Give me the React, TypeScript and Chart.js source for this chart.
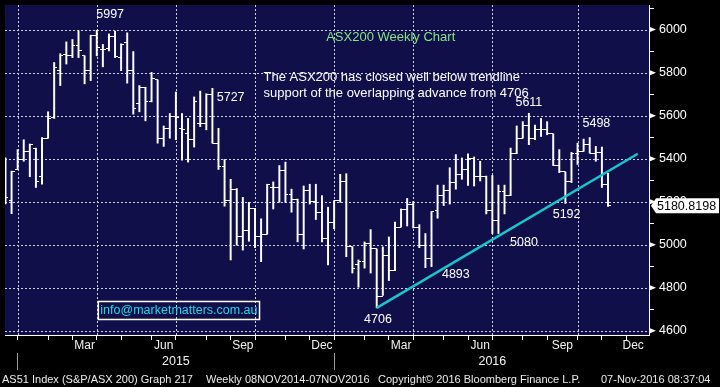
import React, { useEffect, useRef } from 'react';
import { Chart, registerables } from 'chart.js';

Chart.register(...registerables);

// ---------------- data ----------------
// week-ending date (Friday) of the first visible weekly bar; one bar per week after it
const firstWeek = '2014-12-19';

const opens = [
  5310, 5205, 5350, 5396, 5434, 5449, 5319, 5495, 5590, 5809,
  5885, 5878, 5927, 5878, 5809, 5974, 5908, 5913, 5970, 5870,
  5939, 5809, 5656, 5732, 5664, 5766, 5495, 5541, 5595, 5541,
  5515, 5488, 5564, 5564, 5699, 5472, 5362, 5205, 5258, 5039,
  5067, 5169, 5039, 5049, 5266, 5266, 5347, 5235, 5212, 5049,
  5254, 5200, 5148, 5029, 5105, 5205, 5292, 4990, 4906, 4924,
  5006, 4980, 4761, 4952, 4879, 5082, 5163, 5189, 5078, 4998,
  4937, 5159, 5231, 5250, 5289, 5327, 5350, 5403, 5316, 5316,
  5159, 5113, 5246, 5228, 5423, 5495, 5556, 5495, 5534, 5534,
  5515, 5368, 5338, 5292, 5426, 5434, 5465, 5426, 5429, 5281,
];
const highs = [
  5404, 5342, 5442, 5488, 5468, 5449, 5498, 5618, 5847, 5888,
  5943, 5954, 5995, 5878, 5974, 5997, 5931, 5980, 5993, 5934,
  5985, 5898, 5740, 5732, 5801, 5766, 5552, 5610, 5710, 5610,
  5587, 5687, 5714, 5702, 5727, 5541, 5396, 5304, 5261, 5220,
  5197, 5169, 5120, 5281, 5292, 5368, 5384, 5258, 5212, 5273,
  5281, 5281, 5228, 5174, 5205, 5327, 5330, 4990, 4929, 5013,
  5070, 4980, 4990, 5036, 5105, 5166, 5215, 5200, 5093, 5052,
  5154, 5277, 5277, 5358, 5419, 5403, 5423, 5408, 5388, 5319,
  5322, 5277, 5277, 5449, 5552, 5572, 5611, 5556, 5587, 5572,
  5515, 5442, 5338, 5429, 5472, 5491, 5498, 5457, 5454, 5332,
];
const lows = [
  5189, 5144, 5350, 5388, 5316, 5266, 5281, 5495, 5587, 5740,
  5840, 5870, 5870, 5748, 5763, 5878, 5827, 5901, 5870, 5809,
  5751, 5607, 5618, 5576, 5664, 5472, 5457, 5495, 5488, 5393,
  5384, 5454, 5549, 5534, 5472, 5350, 5179, 4929, 4998, 4975,
  5016, 4986, 4921, 5049, 5166, 5197, 5197, 5151, 5013, 4980,
  5189, 5117, 5013, 4906, 5074, 5197, 4944, 4868, 4802, 4891,
  4868, 4706, 4764, 4833, 4879, 5082, 5087, 5078, 4986, 4893,
  4898, 5123, 5182, 5189, 5258, 5304, 5276, 5273, 5296, 5143,
  5052, 5052, 5143, 5228, 5423, 5495, 5465, 5488, 5503, 5511,
  5368, 5335, 5192, 5289, 5373, 5434, 5426, 5388, 5266, 5178,
];
const closes = [
  5220, 5342, 5396, 5434, 5465, 5293, 5495, 5587, 5824, 5878,
  5878, 5927, 5901, 5809, 5974, 5916, 5908, 5967, 5875, 5931,
  5809, 5633, 5732, 5664, 5775, 5495, 5541, 5595, 5590, 5534,
  5491, 5668, 5564, 5699, 5472, 5362, 5205, 5258, 5039, 5067,
  5169, 5039, 5049, 5281, 5266, 5347, 5235, 5212, 5049, 5254,
  5200, 5148, 5029, 5105, 5205, 5292, 4990, 4891, 4924, 5006,
  4980, 4761, 4952, 4879, 5082, 5163, 5189, 5078, 4998, 4937,
  5154, 5231, 5250, 5289, 5327, 5350, 5403, 5316, 5316, 5159,
  5113, 5246, 5228, 5423, 5495, 5556, 5495, 5534, 5534, 5515,
  5368, 5338, 5292, 5426, 5434, 5465, 5426, 5429, 5281, 5180.8198,
];
const lastPriceLabel = '5180.8198';

// trendline (x in weekly-bar units from the first bar)
const trendWeeks = [61, 103.9];
const trendValues = [4706, 5423];

const yMajorTicks = [4600, 4800, 5000, 5200, 5400, 5600, 5800, 6000];
const yMinorTicks = [4700, 4900, 5100, 5300, 5500, 5700, 5900, 6100];
const monthNames = ['Jan', 'Feb', 'Mar', 'Apr', 'May', 'Jun', 'Jul', 'Aug', 'Sep', 'Oct', 'Nov', 'Dec'];
const labelledMonths = [2, 5, 8, 11];
const gridMonths = [0, 3, 6, 9];

const chartTitle = 'ASX200 Weekly Chart';
const commentLines = [
  'The ASX200 has closed well below trendline',
  'support of the overlapping advance from 4706',
];
const levelLabels = ['5997', '5727', '5611', '5498', '5192', '5080', '4893', '4706'];
const emailText = 'info@marketmatters.com.au';
const footerTexts = [
  'AS51 Index (S&P/ASX 200) Graph 217',
  'Weekly 08NOV2014-07NOV2016',
  'Copyright\u00A9 2016 Bloomberg Finance L.P.',
  '07-Nov-2016 08:37:04',
];

// ---------------- layout / style ----------------
const FONT = "'Liberation Sans', Arial, sans-serif";
const NAVY = '#100f4a';
const GRID_DOT = '#d0d0dc';
const WHITE = '#ffffff';
const X_MIN = -0.08;
const X_MAX = 105.74;
const Y_MIN = 4580;
const Y_MAX = 6114.5;

// positions of the text notes, in data units (week index, index value)
const levelLabelPos = [
  [17.2, 6072], [37.0, 5685], [86.0, 5662], [97.1, 5565],
  [92.2, 5141], [85.2, 5012], [74.0, 4859], [61.2, 4650],
];
const titlePos = [63.3, 5962];
const commentPos = [42.4, 5778];
const emailPos = [28.5, 4694];
const footerX = [2, 206, 378, 601];

// ---------------- derived axis helpers ----------------
const DAY = 86400000;
const t0 = Date.parse(firstWeek + 'T00:00:00Z');
const weekDate = (i: number) => new Date(t0 + i * 7 * DAY);

const monthTicks: { idx: number; month: number; year: number }[] = [];
for (let i = 1; i <= 110; i++) {
  const d = weekDate(i);
  const p = weekDate(i - 1);
  if (d.getUTCMonth() !== p.getUTCMonth()) {
    monthTicks.push({ idx: i, month: d.getUTCMonth(), year: d.getUTCFullYear() });
  }
}
const visibleMonthTicks = monthTicks.filter((m) => m.idx >= X_MIN && m.idx <= X_MAX);
const monthLabelTicks: { value: number; label: string }[] = [];
monthTicks.forEach((m, k) => {
  const next = monthTicks[k + 1];
  if (!next || !labelledMonths.includes(m.month) || m.idx > X_MAX) return;
  const mid = Math.min((m.idx + next.idx) / 2, X_MAX - 2.6);
  monthLabelTicks.push({ value: mid, label: monthNames[m.month] });
});
const yearLabelTicks = visibleMonthTicks
  .filter((m) => m.month === 6)
  .map((m) => ({ value: m.idx, label: String(m.year) }));
const yearSepTicks = visibleMonthTicks.filter((m) => m.month === 0).map((m) => ({ value: m.idx }));
const quarterTicks = visibleMonthTicks.filter((m) => gridMonths.includes(m.month)).map((m) => ({ value: m.idx }));

function makeTickImage(side: 'left' | 'right') {
  const c = document.createElement('canvas');
  c.width = 6;
  c.height = 1;
  const g = c.getContext('2d')!;
  g.fillStyle = WHITE;
  g.fillRect(side === 'left' ? 0 : 3, 0, 3, 1);
  return c;
}

const decorPlugin = {
  id: 'decor',
  beforeDraw(chart: any) {
    const { ctx, chartArea: a, width, height } = chart;
    ctx.save();
    ctx.fillStyle = '#000';
    ctx.fillRect(0, 0, width, height);
    ctx.fillStyle = NAVY;
    ctx.fillRect(a.left, a.top, a.right - a.left, a.bottom - a.top);
    ctx.restore();
  },
  // dotted grid (2px on / 2px off) at the ticks of the data axes
  beforeDatasetsDraw(chart: any) {
    const { ctx, chartArea: a } = chart;
    const xs = chart.scales.x;
    const ys = chart.scales.y;
    ctx.save();
    ctx.fillStyle = GRID_DOT;
    xs.ticks.forEach((t: any) => {
      const px = Math.round(xs.getPixelForValue(t.value));
      for (let y = Math.ceil(a.top); y < a.bottom - 1; y += 4) ctx.fillRect(px, y, 1, 2);
    });
    ys.ticks.forEach((t: any) => {
      const py = Math.round(ys.getPixelForValue(t.value));
      for (let x = Math.ceil(a.left); x < a.right - 1; x += 4) ctx.fillRect(x, py, 2, 1);
    });
    ctx.restore();
  },
  afterDatasetsDraw(chart: any) {
    const { ctx } = chart;
    const xs = chart.scales.x;
    const ys = chart.scales.y;
    ctx.save();
    ctx.textBaseline = 'middle';
    ctx.font = `12.5px ${FONT}`;
    ctx.fillStyle = WHITE;
    ctx.textAlign = 'center';
    levelLabels.forEach((t, k) => {
      const [x, y] = levelLabelPos[k];
      ctx.fillText(t, xs.getPixelForValue(x), ys.getPixelForValue(y));
    });
    ctx.font = `13px ${FONT}`;
    ctx.fillStyle = '#86e486';
    ctx.fillText(chartTitle, xs.getPixelForValue(titlePos[0]), ys.getPixelForValue(titlePos[1]));
    ctx.fillStyle = WHITE;
    ctx.textAlign = 'left';
    commentLines.forEach((t, k) => {
      ctx.fillText(t, xs.getPixelForValue(commentPos[0]), ys.getPixelForValue(commentPos[1]) + k * 16);
    });
    ctx.font = `12.5px ${FONT}`;
    const w = ctx.measureText(emailText).width;
    const cx = xs.getPixelForValue(emailPos[0]);
    const cy = ys.getPixelForValue(emailPos[1]);
    ctx.strokeStyle = WHITE;
    ctx.lineWidth = 1.5;
    ctx.strokeRect(cx - w / 2 - 2, cy - 9, w + 4, 18);
    ctx.fillStyle = '#22d8ea';
    ctx.textAlign = 'center';
    ctx.fillText(emailText, cx, cy + 0.5);
    ctx.restore();
  },
  afterDraw(chart: any) {
    const { ctx } = chart;
    const ys = chart.scales.y;
    ctx.save();
    ctx.fillStyle = WHITE;
    yMajorTicks.forEach((v) => {
      const y = ys.getPixelForValue(v);
      ctx.beginPath();
      ctx.moveTo(ys.left + 1, y - 2.5);
      ctx.lineTo(ys.left + 7, y);
      ctx.lineTo(ys.left + 1, y + 2.5);
      ctx.closePath();
      ctx.fill();
    });
    const py = ys.getPixelForValue(closes[closes.length - 1]);
    const l = ys.left + 2;
    ctx.beginPath();
    ctx.moveTo(l, py);
    ctx.lineTo(l + 5, py - 7.5);
    ctx.lineTo(chart.width - 1, py - 7.5);
    ctx.lineTo(chart.width - 1, py + 7.5);
    ctx.lineTo(l + 5, py + 7.5);
    ctx.closePath();
    ctx.fillStyle = WHITE;
    ctx.fill();
    ctx.fillStyle = '#000';
    ctx.font = `12.5px ${FONT}`;
    ctx.textAlign = 'left';
    ctx.textBaseline = 'middle';
    ctx.fillText(lastPriceLabel, l + 6, py + 0.5);
    ctx.font = `11px ${FONT}`;
    ctx.fillStyle = '#ececec';
    footerTexts.forEach((t, k) => ctx.fillText(t, footerX[k], chart.height - 7.5));
    ctx.restore();
  },
};

export default function App() {
  const ref = useRef<HTMLCanvasElement>(null);
  useEffect(() => {
    const canvas = ref.current;
    if (!canvas) return;
    const openImg = makeTickImage('left');
    const closeImg = makeTickImage('right');
    const sized = (h: number | null, w: number | null) => (s: any) => {
      if (h !== null) s.height = h;
      if (w !== null) s.width = w;
      s.paddingLeft = 0;
      s.paddingRight = 0;
      s.paddingTop = 0;
      s.paddingBottom = 0;
    };
    const setTicks = (list: { value: number }[]) => (s: any) => {
      s.ticks = list.map((t) => ({ value: t.value }));
    };
    const baseX = { type: 'linear', min: X_MIN, max: X_MAX, position: 'bottom', offset: false };
    const baseY = { type: 'linear', min: Y_MIN, max: Y_MAX, position: 'right', beginAtZero: false };
    const noGrid = { display: false, drawTicks: false, tickLength: 0, offset: false };
    const chart = new Chart(canvas, {
      type: 'bar',
      data: {
        datasets: [
          {
            type: 'line',
            data: trendWeeks.map((x, i) => ({ x, y: trendValues[i] })),
            borderColor: '#19c5cb',
            borderWidth: 2.5,
            pointRadius: 0,
            fill: false,
            order: 0,
          } as any,
          {
            type: 'line',
            data: opens.map((y, i) => ({ x: i, y })),
            showLine: false,
            fill: false,
            pointStyle: openImg,
            pointRadius: 3,
            order: 1,
          } as any,
          {
            type: 'line',
            data: closes.map((y, i) => ({ x: i, y })),
            showLine: false,
            fill: false,
            pointStyle: closeImg,
            pointRadius: 3,
            order: 1,
          } as any,
          {
            type: 'bar',
            data: highs.map((h, i) => ({ x: i, y: [lows[i], h] })),
            backgroundColor: WHITE,
            borderWidth: 0,
            barThickness: 1.3,
            grouped: false,
            order: 2,
          } as any,
        ],
      },
      options: {
        animation: false,
        responsive: true,
        maintainAspectRatio: false,
        events: [],
        layout: { padding: 0 },
        plugins: { legend: { display: false }, tooltip: { enabled: false }, title: { display: false } },
        scales: {
          x: {
            ...baseX,
            weight: 0,
            grid: { display: true, offset: false, drawOnChartArea: false, drawTicks: false, tickLength: 0 },
            border: { display: true, color: WHITE, width: 1 },
            ticks: { display: false, autoSkip: false },
            afterBuildTicks: setTicks(quarterTicks),
            afterFit: sized(0, null),
          },
          xt: {
            ...baseX,
            weight: 1,
            grid: { display: true, offset: false, drawOnChartArea: false, drawTicks: true, tickLength: 5, tickColor: WHITE, tickWidth: 1 },
            border: { display: false },
            ticks: { display: false, autoSkip: false },
            afterBuildTicks: setTicks(visibleMonthTicks.map((m) => ({ value: m.idx }))),
            afterFit: sized(0, null),
          },
          xm: {
            ...baseX,
            weight: 2,
            grid: noGrid,
            border: { display: false },
            ticks: {
              autoSkip: false,
              maxRotation: 0,
              minRotation: 0,
              padding: 3.8,
              color: '#f2f2f2',
              font: { family: FONT, size: 12 },
              callback: (_v: any, i: number) => (monthLabelTicks[i] ? monthLabelTicks[i].label : ''),
            },
            afterBuildTicks: setTicks(monthLabelTicks),
            afterFit: sized(18, null),
          },
          xs: {
            ...baseX,
            weight: 3,
            grid: { display: true, offset: false, drawOnChartArea: false, drawTicks: true, tickLength: 17, tickColor: '#9a9a9a', tickWidth: 1 },
            border: { display: false },
            ticks: { display: false, autoSkip: false },
            afterBuildTicks: setTicks(yearSepTicks),
            afterFit: sized(0, null),
          },
          xy: {
            ...baseX,
            weight: 4,
            grid: noGrid,
            border: { display: false },
            ticks: {
              autoSkip: false,
              maxRotation: 0,
              minRotation: 0,
              padding: 1.5,
              color: '#f2f2f2',
              font: { family: FONT, size: 12.5 },
              callback: (_v: any, i: number) => (yearLabelTicks[i] ? yearLabelTicks[i].label : ''),
            },
            afterBuildTicks: setTicks(yearLabelTicks),
            afterFit: sized(34, null),
          },
          ym: {
            ...baseY,
            weight: 0,
            grid: { display: true, drawOnChartArea: false, drawTicks: true, tickLength: 5, tickColor: WHITE, tickWidth: 1 },
            border: { display: false },
            ticks: { display: false, autoSkip: false },
            afterBuildTicks: setTicks(yMinorTicks.map((v) => ({ value: v }))),
            afterFit: sized(null, 0),
          },
          y: {
            ...baseY,
            weight: 1,
            grid: { display: true, drawOnChartArea: false, drawTicks: true, tickLength: 5, tickColor: WHITE },
            border: { display: true, color: WHITE, width: 1 },
            ticks: {
              autoSkip: false,
              padding: 5,
              color: WHITE,
              font: { family: FONT, size: 12.5 },
              callback: (v: any) => String(v),
            },
            afterBuildTicks: setTicks(yMajorTicks.map((v) => ({ value: v }))),
            afterFit: sized(null, 71),
          },
        } as any,
      },
      plugins: [decorPlugin],
    } as any);
    return () => chart.destroy();
  }, []);
  return (
    <div style={{ position: 'absolute', left: 0, top: 0, width: 720, height: 387, background: '#000' }}>
      <canvas ref={ref} />
    </div>
  );
}
